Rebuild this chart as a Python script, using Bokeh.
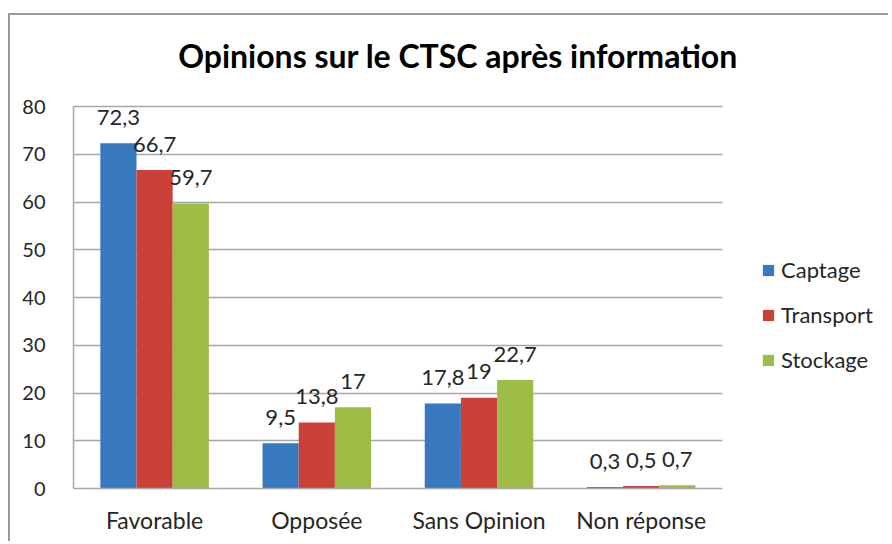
from bokeh.plotting import figure
from bokeh.models import ColumnDataSource, FactorRange, Legend, LegendItem, Label, BoxAnnotation
from bokeh.transform import dodge
from bokeh.core.properties import value
from bokeh.embed import file_html
from bokeh.resources import INLINE

categories = ["Favorable", "Opposée", "Sans Opinion", "Non réponse"]
captage = [72.3, 9.5, 17.8, 0.3]
transport = [66.7, 13.8, 19, 0.5]
stockage = [59.7, 17, 22.7, 0.7]
series_names = ["Captage", "Transport", "Stockage"]
y_ticks = [0, 10, 20, 30, 40, 50, 60, 70, 80]
title_text = "Opinions sur le CTSC après information"

def fmt(v):
    return f"{v:g}".replace(".", ",")

source = ColumnDataSource(dict(
    cat=categories,
    captage=captage, transport=transport, stockage=stockage,
    lab_c=[fmt(v) for v in captage],
    lab_t=[fmt(v) for v in transport],
    lab_s=[fmt(v) for v in stockage],
))

FONT = "Lato"
TXT = "#262626"
GRID = "#a6a6a6"

# an extra blank slot on the right of the x range holds the legend
x_range = FactorRange(*(categories + [" "]), range_padding=0)
p = figure(width=880, height=528, x_range=x_range,
           y_range=(0, 99.06), output_backend="svg", toolbar_location=None,
           min_border_left=63, min_border_right=6, min_border_top=0, min_border_bottom=55)
p.outline_line_color = None
p.background_fill_color = "white"
p.border_fill_color = "white"
p.styles = {"border-left": "2px solid #9a9a9a", "border-top": "2px solid #9a9a9a",
            "margin-left": "8px", "margin-top": "13px"}

bw = 0.223
colors = ["#3878BE", "#CA4137", "#9CBC46"]
fields = ["captage", "transport", "stockage"]
labs = ["lab_c", "lab_t", "lab_s"]
offsets = [-bw, 0, bw]
renderers = []
for f, c, off, lb in zip(fields, colors, offsets, labs):
    r = p.vbar(x=dodge("cat", off, range=p.x_range), top=f, width=bw, bottom=0,
               source=source, fill_color=c, line_color=None)
    renderers.append(r)
    p.text(x=dodge("cat", off, range=p.x_range), y=f, text=lb, source=source,
           text_align="center", text_baseline="alphabetic", y_offset=-26,
           text_font=value(FONT), text_font_size="22px", text_color=TXT)

# hide grid lines in the legend slot
cover = BoxAnnotation(left=len(categories), top=85, fill_color="white", fill_alpha=1,
                      line_color=None)
p.add_layout(cover)

legend = Legend(items=[LegendItem(label=n, renderers=[r]) for n, r in zip(series_names, renderers)],
                location=(688, 115), orientation="vertical",
                glyph_width=14, glyph_height=14, label_height=20, spacing=18,
                label_standoff=6, padding=0, margin=0,
                border_line_color=None, background_fill_alpha=0,
                label_text_font=FONT, label_text_font_size="22px", label_text_color=TXT)
p.add_layout(legend, "center")

title = Label(x=384.5, y=433, x_units="screen", y_units="screen",
              text=title_text, text_align="center", text_baseline="alphabetic",
              text_font=FONT, text_font_size="32px", text_font_style="bold", text_color="black")
p.add_layout(title)

p.yaxis.ticker = y_ticks
p.yaxis.bounds = (0, 80)
p.yaxis.axis_line_color = GRID
p.yaxis.axis_line_width = 1.5
p.yaxis.major_tick_line_color = None
p.yaxis.minor_tick_line_color = None
p.yaxis.major_label_standoff = 22
p.yaxis.major_label_text_font = FONT
p.yaxis.major_label_text_font_size = "20px"
p.yaxis.major_label_text_color = TXT

p.xaxis.bounds = (0, len(categories))
p.xaxis.axis_line_color = GRID
p.xaxis.axis_line_width = 1.5
p.xaxis.major_tick_line_color = None
p.xaxis.minor_tick_line_color = None
p.xaxis.major_label_standoff = 11
p.xaxis.major_label_text_font = FONT
p.xaxis.major_label_text_font_size = "23px"
p.xaxis.major_label_text_color = TXT

p.xgrid.grid_line_color = None
p.ygrid.grid_line_color = GRID
p.ygrid.grid_line_width = 1.5

open("out.html", "w").write(file_html(p, INLINE))
